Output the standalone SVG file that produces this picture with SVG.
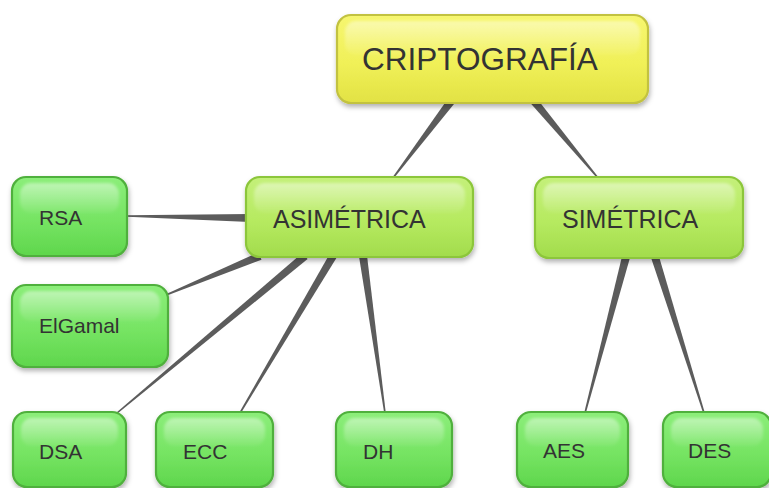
<svg xmlns="http://www.w3.org/2000/svg" width="769" height="488" viewBox="0 0 769 488">
  <defs>
    <linearGradient id="gYellow" x1="0" y1="0" x2="0" y2="1">
      <stop offset="0" stop-color="#f6f670"/>
      <stop offset="0.55" stop-color="#f0f058"/>
      <stop offset="1" stop-color="#e2e244"/>
    </linearGradient>
    <linearGradient id="gLime" x1="0" y1="0" x2="0" y2="1">
      <stop offset="0" stop-color="#c4f07a"/>
      <stop offset="0.55" stop-color="#b6ea60"/>
      <stop offset="1" stop-color="#a2dc4c"/>
    </linearGradient>
    <linearGradient id="gGreen" x1="0" y1="0" x2="0" y2="1">
      <stop offset="0" stop-color="#8cee7a"/>
      <stop offset="0.55" stop-color="#76e463"/>
      <stop offset="1" stop-color="#5fd64c"/>
    </linearGradient>
    <linearGradient id="gGloss" x1="0" y1="0" x2="0" y2="1">
      <stop offset="0" stop-color="#ffffff" stop-opacity="0.45"/>
      <stop offset="1" stop-color="#ffffff" stop-opacity="0.05"/>
    </linearGradient>
    <filter id="shadow" x="-10%" y="-15%" width="120%" height="140%">
      <feDropShadow dx="1" dy="3" stdDeviation="2.5" flood-color="#000000" flood-opacity="0.3"/>
    </filter>
    <filter id="soft" x="-10%" y="-30%" width="120%" height="160%">
      <feGaussianBlur stdDeviation="1.6"/>
    </filter>
  </defs>
  <style>
    .box { stroke-width: 2.2; filter: url(#shadow); }
    .yellow { fill: url(#gYellow); stroke: #c2c240; }
    .lime { fill: url(#gLime); stroke: #8cc63a; }
    .green { fill: url(#gGreen); stroke: #4fb03c; }
    .gloss { fill: url(#gGloss); filter: url(#soft); }
    .lbl { font-family: "Liberation Sans", Arial, sans-serif; fill: #333333; }
    .big { font-size: 31.5px; }
    .mid { font-size: 25px; }
    .small { font-size: 21px; }
    .link { fill: #5c5c5c; }
  </style>

  <!-- tapered links, thick end at the parent -->
  <g id="connectors">
    <polygon class="link" points="448.8,97.6 455.2,102.4 393.6,178.5 392.4,177.5"/>
    <polygon class="link" points="529.9,102.6 536.1,97.4 598.6,177.5 597.4,178.5"/>
    <polygon class="link" points="250,214 250,222 127,216.8 127,215.2"/>
    <polygon class="link" points="258.5,252.3 261.5,259.7 166.3,295.7 165.7,294.3"/>
    <polygon class="link" points="302.4,252.9 307.6,259.1 117.5,413.6 116.5,412.4"/>
    <polygon class="link" points="329.6,254 336.4,258 240.7,413.4 239.3,412.6"/>
    <polygon class="link" points="359,256.6 367,255.4 385.8,412.9 384.2,413.1"/>
    <polygon class="link" points="622.1,256 629.9,258 585.8,413.2 584.2,412.8"/>
    <polygon class="link" points="651.2,258.2 658.8,255.8 704.8,412.8 703.2,413.2"/>
  </g>

  <g id="criptografia">
    <rect class="box yellow" x="337" y="15" width="311" height="88" rx="14"/>
    <rect class="gloss" x="345" y="21" width="295" height="34" rx="11"/>
    <text class="lbl big" x="362" y="70">CRIPTOGRAFÍA</text>
  </g>

  <g id="asimetrica">
    <rect class="box lime" x="246" y="177" width="227" height="80" rx="14"/>
    <rect class="gloss" x="254" y="183" width="211" height="30" rx="11"/>
    <text class="lbl mid" x="273" y="228">ASIMÉTRICA</text>
  </g>

  <g id="simetrica">
    <rect class="box lime" x="535" y="177" width="208" height="81" rx="14"/>
    <rect class="gloss" x="543" y="183" width="192" height="30" rx="11"/>
    <text class="lbl mid" x="562" y="228">SIMÉTRICA</text>
  </g>

  <g id="rsa">
    <rect class="box green" x="12" y="177" width="115" height="79" rx="14"/>
    <rect class="gloss" x="20" y="183" width="99" height="30" rx="11"/>
    <text class="lbl small" x="39" y="225">RSA</text>
  </g>

  <g id="elgamal">
    <rect class="box green" x="12" y="285" width="156" height="82" rx="14"/>
    <rect class="gloss" x="20" y="291" width="140" height="30" rx="11"/>
    <text class="lbl small" x="39" y="333">ElGamal</text>
  </g>

  <g id="dsa">
    <rect class="box green" x="13" y="412" width="113" height="75" rx="14"/>
    <rect class="gloss" x="21" y="418" width="97" height="28" rx="11"/>
    <text class="lbl small" x="39" y="459">DSA</text>
  </g>

  <g id="ecc">
    <rect class="box green" x="156" y="412" width="117" height="75" rx="14"/>
    <rect class="gloss" x="164" y="418" width="101" height="28" rx="11"/>
    <text class="lbl small" x="183" y="459">ECC</text>
  </g>

  <g id="dh">
    <rect class="box green" x="336" y="412" width="116" height="75" rx="14"/>
    <rect class="gloss" x="344" y="418" width="100" height="28" rx="11"/>
    <text class="lbl small" x="363" y="459">DH</text>
  </g>

  <g id="aes">
    <rect class="box green" x="517" y="412" width="111" height="75" rx="14"/>
    <rect class="gloss" x="525" y="418" width="95" height="28" rx="11"/>
    <text class="lbl small" x="543" y="458">AES</text>
  </g>

  <g id="des">
    <rect class="box green" x="663" y="412" width="108" height="75" rx="14"/>
    <rect class="gloss" x="671" y="418" width="92" height="28" rx="11"/>
    <text class="lbl small" x="688" y="458">DES</text>
  </g>
</svg>
